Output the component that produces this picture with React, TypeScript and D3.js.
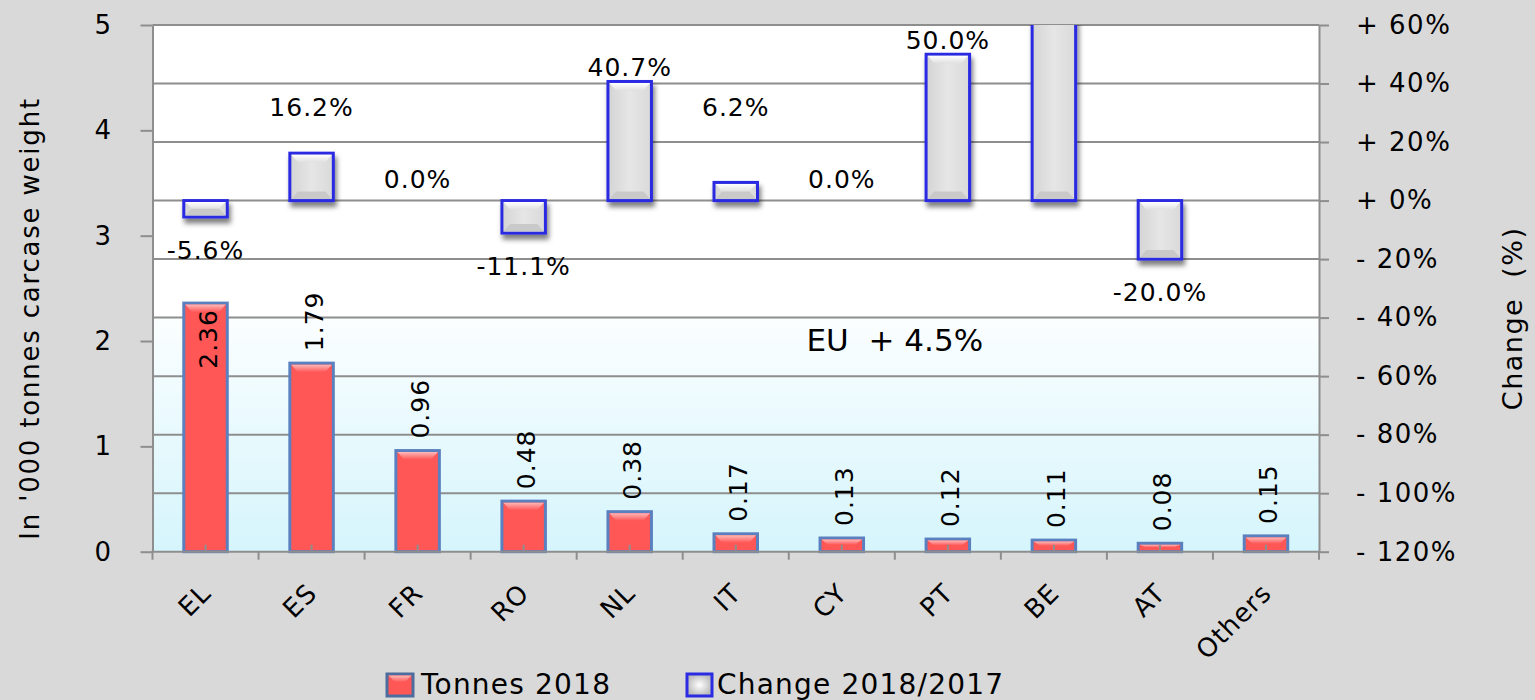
import React, { useEffect, useRef } from 'react';
import { axisLeft, axisRight, scaleBand, scaleLinear, select } from 'd3';

const categories = ['EL', 'ES', 'FR', 'RO', 'NL', 'IT', 'CY', 'PT', 'BE', 'AT', 'Others'];
const tonnes2018 = [2.36, 1.79, 0.96, 0.48, 0.38, 0.17, 0.13, 0.12, 0.11, 0.08, 0.15];
// change 2018/2017 in %, BE runs past the top of the axis (no label shown there), Others has none
const change = [-5.6, 16.2, 0.0, -11.1, 40.7, 6.2, 0.0, 50.0, 100.0, -20.0, null];
const leftTicks = [0, 1, 2, 3, 4, 5];
const rightTicks = [-120, -100, -80, -60, -40, -20, 0, 20, 40, 60];
const euChange = 4.5;

const W = 1535;
const H = 700;
const FONT = '"DejaVu Sans", Verdana, sans-serif';
const GRID = '#8e8e8e';

export default function App() {
    const svgRef = useRef<SVGSVGElement>(null);

    useEffect(() => {
        const margin = { top: 25, right: 216, bottom: 148.3, left: 152.5 };
        const left = margin.left;
        const right = W - margin.right;
        const top = margin.top;
        const bottom = H - margin.bottom;

        const svg = select(svgRef.current);
        svg.selectAll('*').remove();

        // scales
        const x = scaleBand().domain(categories).range([left, right]).paddingInner(0.59).paddingOuter(0.295);
        const yL = scaleLinear().domain([0, 5]).range([bottom, top]);
        const yR = scaleLinear().domain([-120, 60]).range([bottom, top]);
        const cx = (c: string) => (x(c) as number) + x.bandwidth() / 2;
        const bw = x.bandwidth();

        const defs = svg.append('defs');
        const fade = defs.append('linearGradient').attr('id', 'fade').attr('x1', 0).attr('x2', 0).attr('y1', 0).attr('y2', 1);
        fade.append('stop').attr('offset', '0%').attr('stop-color', '#fbfeff');
        fade.append('stop').attr('offset', '100%').attr('stop-color', '#d5f5fc');
        const redTop = defs.append('linearGradient').attr('id', 'redTop').attr('x1', 0).attr('x2', 0).attr('y1', 0).attr('y2', 1);
        redTop.append('stop').attr('offset', '0%').attr('stop-color', '#ffb8b8');
        redTop.append('stop').attr('offset', '100%').attr('stop-color', '#ff5757');
        const greyTop = defs.append('linearGradient').attr('id', 'greyTop').attr('x1', 0).attr('x2', 0).attr('y1', 0).attr('y2', 1);
        greyTop.append('stop').attr('offset', '0%').attr('stop-color', '#ffffff');
        greyTop.append('stop').attr('offset', '100%').attr('stop-color', '#e0e0e0');
        const greySide = defs.append('linearGradient').attr('id', 'greySide').attr('x1', 0).attr('x2', 1).attr('y1', 0).attr('y2', 0);
        greySide.append('stop').attr('offset', '0%').attr('stop-color', '#d4d4d4');
        greySide.append('stop').attr('offset', '50%').attr('stop-color', '#e6e6e6');
        greySide.append('stop').attr('offset', '100%').attr('stop-color', '#d9d9d9');
        const greyBox = defs.append('radialGradient').attr('id', 'greyBox');
        greyBox.append('stop').attr('offset', '0%').attr('stop-color', '#ffffff');
        greyBox.append('stop').attr('offset', '100%').attr('stop-color', '#bdbdbd');
        const shadow = defs.append('filter').attr('id', 'shadow').attr('x', '-30%').attr('y', '-30%').attr('width', '160%').attr('height', '160%');
        shadow.append('feDropShadow').attr('dx', 2).attr('dy', 5).attr('stdDeviation', 2.5)
            .attr('flood-color', '#000').attr('flood-opacity', 0.5);
        defs.append('clipPath').attr('id', 'plotClip')
            .append('rect').attr('x', left).attr('y', top).attr('width', right - left).attr('height', bottom - top);

        // background and plot area
        svg.append('rect').attr('width', W).attr('height', H).attr('fill', '#d9d9d9');
        svg.append('rect').attr('x', left).attr('y', top).attr('width', right - left).attr('height', bottom - top).attr('fill', '#fff');
        svg.append('rect').attr('x', left).attr('y', yR(-40)).attr('width', right - left).attr('height', bottom - yR(-40))
            .attr('fill', 'url(#fade)');

        // grid lines follow the % axis
        svg.append('g').selectAll('line').data(rightTicks.filter(d => d > -120)).join('line')
            .attr('x1', left).attr('x2', right).attr('y1', d => yR(d)).attr('y2', d => yR(d))
            .attr('stroke', GRID).attr('stroke-width', 2);

        // tonnes bars
        const bars = svg.append('g');
        categories.forEach((c, i) => {
            const x0 = x(c) as number;
            const y0 = yL(tonnes2018[i]);
            const h = bottom - y0;
            bars.append('rect').attr('x', x0).attr('y', y0).attr('width', bw).attr('height', h)
                .attr('fill', '#ff5656').attr('stroke', '#5b80bf').attr('stroke-width', 3);
            const b = Math.min(9, h / 2);
            bars.append('polygon')
                .attr('points', `${x0 + 1.5},${y0 + 1.5} ${x0 + bw - 1.5},${y0 + 1.5} ${x0 + bw - 8},${y0 + b} ${x0 + 8},${y0 + b}`)
                .attr('fill', 'url(#redTop)');
        });

        // small inner ticks at the category centres
        svg.append('g').selectAll('line').data(categories).join('line')
            .attr('x1', cx).attr('x2', cx).attr('y1', bottom).attr('y2', bottom - 7)
            .attr('stroke', GRID).attr('stroke-width', 2);

        // change bars on the right axis
        const cg = svg.append('g').attr('clip-path', 'url(#plotClip)');
        const cbars = cg.append('g').attr('filter', 'url(#shadow)');
        categories.forEach((c, i) => {
            const v = change[i];
            if (v === null || v === 0) return;
            const x0 = x(c) as number;
            const yTop = Math.max(yR(Math.max(v, 0)), top - 20);
            const yBot = yR(Math.min(v, 0));
            const h = yBot - yTop;
            cbars.append('rect').attr('x', x0).attr('y', yTop).attr('width', bw).attr('height', h)
                .attr('fill', 'url(#greySide)').attr('stroke', '#2b2be3').attr('stroke-width', 3);
            const b = Math.min(9, h / 2);
            cbars.append('polygon')
                .attr('points', `${x0 + 1.5},${yTop + 1.5} ${x0 + bw - 1.5},${yTop + 1.5} ${x0 + bw - 8},${yTop + b} ${x0 + 8},${yTop + b}`)
                .attr('fill', 'url(#greyTop)');
            cbars.append('polygon')
                .attr('points', `${x0 + 1.5},${yBot - 1.5} ${x0 + bw - 1.5},${yBot - 1.5} ${x0 + bw - 8},${yBot - b} ${x0 + 8},${yBot - b}`)
                .attr('fill', '#c9c9c9');
        });

        // axes
        const axisStyle = (g: any) => {
            g.select('.domain').attr('stroke', GRID).attr('stroke-width', 2);
            g.selectAll('.tick line').attr('stroke', GRID).attr('stroke-width', 2);
            g.selectAll('.tick text').attr('font-family', FONT).attr('font-size', 26)
                .attr('letter-spacing', 1.5).attr('fill', '#000');
        };
        svg.append('g').attr('transform', `translate(${left},0)`)
            .call(axisLeft(yL).tickValues(leftTicks).tickSize(12).tickSizeOuter(0).tickPadding(28).tickFormat(d => String(d)))
            .call(axisStyle);
        svg.append('g').attr('transform', `translate(${right},0)`)
            .call(axisRight(yR).tickValues(rightTicks).tickSize(10).tickSizeOuter(0).tickPadding(27)
                .tickFormat(d => (+d >= 0 ? '+ ' : '- ') + Math.abs(+d) + '%'))
            .call(axisStyle);

        // category axis: line, ticks between the categories, rotated labels
        svg.append('line').attr('x1', left - 1).attr('x2', right + 1).attr('y1', bottom).attr('y2', bottom)
            .attr('stroke', GRID).attr('stroke-width', 2);
        svg.append('g').selectAll('line').data(categories.concat([''])).join('line')
            .attr('x1', (d, i) => left + i * x.step()).attr('x2', (d, i) => left + i * x.step())
            .attr('y1', bottom).attr('y2', bottom + 8)
            .attr('stroke', GRID).attr('stroke-width', 2);
        svg.append('g').selectAll('text').data(categories).join('text')
            .attr('transform', d => `translate(${cx(d) + 7},${bottom + 43}) rotate(-45)`)
            .attr('text-anchor', 'end')
            .attr('font-family', FONT).attr('font-size', 26).attr('letter-spacing', 1)
            .text(d => d);

        // tonnes labels, vertical
        svg.append('g').selectAll('text').data(categories).join('text')
            .attr('transform', (d, i) => {
                const yt = yL(tonnes2018[i]);
                return `translate(${cx(d) + 2},${tonnes2018[i] > 2 ? yt + 6 : yt - 12}) rotate(-90)`;
            })
            .attr('text-anchor', (d, i) => (tonnes2018[i] > 2 ? 'end' : 'start'))
            .attr('dy', '0.36em')
            .attr('font-family', FONT).attr('font-size', 25).attr('letter-spacing', 1)
            .text((d, i) => tonnes2018[i].toFixed(2));

        // change labels
        const zero = yR(0);
        svg.append('g').selectAll('text')
            .data(categories.map((c, i) => ({ c, v: change[i] })).filter(d => d.v !== null && (d.v as number) <= 60))
            .join('text')
            .attr('x', d => cx(d.c))
            .attr('y', d => {
                const v = d.v as number;
                if (v === 0) return zero - 22;
                if (v > 0) return Math.min(yR(v) - 14, zero - 94);
                return yR(v) + 33;
            })
            .attr('dy', '0.36em')
            .attr('text-anchor', 'middle')
            .attr('font-family', FONT).attr('font-size', 25).attr('letter-spacing', 1)
            .text(d => (d.v as number).toFixed(1) + '%');

        // EU total
        svg.append('text')
            .attr('x', (cx('CY') + cx('PT')) / 2).attr('y', yR(-40) + 33)
            .attr('text-anchor', 'middle').attr('font-family', FONT).attr('font-size', 31)
            .style('white-space', 'pre')
            .text(`EU  + ${euChange.toFixed(1)}%`);

        // axis titles
        svg.append('text')
            .attr('transform', `translate(30,${(top + bottom) / 2 + 30}) rotate(-90)`)
            .attr('text-anchor', 'middle').attr('dy', '0.35em')
            .attr('font-family', FONT).attr('font-size', 26).attr('letter-spacing', 1.8)
            .text("In '000 tonnes carcase weight");
        svg.append('text')
            .attr('transform', `translate(1513,${(top + bottom) / 2 + 30}) rotate(-90)`)
            .attr('text-anchor', 'middle').attr('dy', '0.35em')
            .attr('font-family', FONT).attr('font-size', 27).attr('letter-spacing', 1.5)
            .style('white-space', 'pre')
            .text('Change  (%)');

        // legend
        const legend = svg.append('g').attr('font-family', FONT).attr('font-size', 28).attr('letter-spacing', 1.2);
        legend.append('rect').attr('x', 387).attr('y', 674).attr('width', 26).attr('height', 22)
            .attr('fill', '#ff5656').attr('stroke', '#4c6d9e').attr('stroke-width', 3);
        legend.append('polygon').attr('points', '388.5,675.5 411.5,675.5 405,682 395,682').attr('fill', 'url(#redTop)');
        legend.append('text').attr('x', 421).attr('y', 694).text('Tonnes 2018');
        legend.append('rect').attr('x', 687).attr('y', 674).attr('width', 25).attr('height', 22)
            .attr('fill', 'url(#greyBox)').attr('stroke', '#2b2be3').attr('stroke-width', 3);
        legend.append('text').attr('x', 717).attr('y', 694).text('Change 2018/2017');
    }, []);

    return <svg ref={svgRef} width={W} height={H} style={{ position: 'absolute', left: 0, top: 0, display: 'block' }} />;
}
